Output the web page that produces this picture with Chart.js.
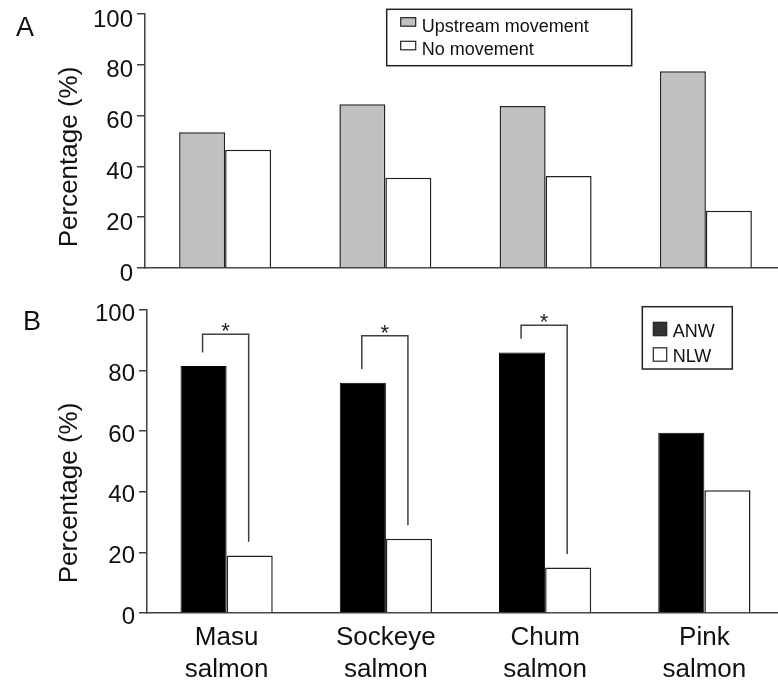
<!DOCTYPE html>
<html>
<head>
<meta charset="utf-8">
<script src="https://cdn.jsdelivr.net/npm/chart.js@4.4.1/dist/chart.umd.min.js"></script>
<style>
  html, body { margin: 0; padding: 0; background: #fff; overflow: hidden; }
  #wrap { position: relative; width: 778px; height: 684px; overflow: hidden; }
  .panel { position: absolute; left: 0; }
  #pa { top: 0; }
  #pb { top: 290px; }
</style>
</head>
<body>
<div id="wrap">
  <div class="panel" id="pa"><canvas id="chartA" width="792" height="290"></canvas></div>
  <div class="panel" id="pb"><canvas id="chartB" width="792" height="394"></canvas></div>
</div>
<script>
// Salmon species on the category axis (two-line labels)
const species = [['Masu', 'salmon'], ['Sockeye', 'salmon'], ['Chum', 'salmon'], ['Pink', 'salmon']];

// Panel A: share of fish moving upstream vs not moving (%)
const upstreamMovement = [53.4, 64.5, 63.8, 77.5];
const noMovement = [46.6, 35.5, 36.2, 22.5];

// Panel B: ANW vs NLW (%)
const anwValues = [81.5, 76, 86, 59.5];
const nlwValues = [19, 24.5, 15, 40.5];

// Significance brackets in panel B (value of the bracket's top line, null = none)
const bracketTop = [92, 91.5, 95, null];
const bracketMark = '*';

// Y-axis tick values shared by both panels
const yTicks = [0, 20, 40, 60, 80, 100];

const FONT = '"Liberation Sans", Arial, Helvetica, sans-serif';
const INK = '#111';
const AXIS = '#404040';

// Draws a boxed legend from the chart's own datasets
const boxLegend = {
  id: 'boxLegend',
  afterDraw(chart, args, o) {
    const ctx = chart.ctx;
    ctx.save();
    ctx.lineWidth = 1.5;
    ctx.strokeStyle = '#222';
    ctx.strokeRect(o.box[0], o.box[1], o.box[2] - o.box[0], o.box[3] - o.box[1]);
    ctx.font = o.fontSize + 'px ' + FONT;
    ctx.fillStyle = INK;
    ctx.textBaseline = 'alphabetic';
    ctx.textAlign = 'left';
    chart.data.datasets.forEach((ds, i) => {
      const sy = o.swatchY + i * o.step;
      ctx.fillStyle = o.swatchFill && o.swatchFill[i] ? o.swatchFill[i] : ds.backgroundColor;
      ctx.fillRect(o.swatchX, sy, o.swatchW, o.swatchH);
      ctx.lineWidth = 1.2;
      ctx.strokeStyle = '#222';
      ctx.strokeRect(o.swatchX, sy, o.swatchW, o.swatchH);
      ctx.fillStyle = INK;
      ctx.fillText(ds.label, o.textX, sy + o.textDy);
    });
    ctx.restore();
  }
};

// Axis caption and panel letter
const captions = {
  id: 'captions',
  afterDraw(chart, args, o) {
    const ctx = chart.ctx;
    ctx.save();
    ctx.fillStyle = INK;
    ctx.textAlign = 'center';
    ctx.textBaseline = 'middle';
    (o.items || []).forEach(it => {
      ctx.save();
      ctx.font = it.size + 'px ' + FONT;
      ctx.translate(it.x, it.y);
      if (it.rotate) ctx.rotate(it.rotate);
      ctx.fillText(it.text, 0, 0);
      ctx.restore();
    });
    ctx.restore();
  }
};

// Significance brackets joining the two bars of a category
const brackets = {
  id: 'brackets',
  afterDatasetsDraw(chart, args, o) {
    const ctx = chart.ctx;
    const y = chart.scales.y;
    const m0 = chart.getDatasetMeta(0), m1 = chart.getDatasetMeta(1);
    ctx.save();
    ctx.strokeStyle = AXIS;
    ctx.lineWidth = 1.5;
    ctx.fillStyle = '#222';
    ctx.font = o.markSize + 'px ' + FONT;
    ctx.textAlign = 'center';
    ctx.textBaseline = 'alphabetic';
    o.tops.forEach((top, i) => {
      if (top == null) return;
      const xl = m0.data[i].x - 1, xr = m1.data[i].x - 1;
      const yl = y.getPixelForValue(o.left[i] + o.gap);
      const yr = y.getPixelForValue(o.right[i] + o.gap);
      const yt = y.getPixelForValue(top);
      ctx.beginPath();
      ctx.moveTo(xl, yl);
      ctx.lineTo(xl, yt);
      ctx.lineTo(xr, yt);
      ctx.lineTo(xr, yr);
      ctx.stroke();
      ctx.fillText(o.mark, (xl + xr) / 2, yt + o.markDy);
    });
    ctx.restore();
  }
};

function yAxis(width, labelOffset) {
  return {
    min: 0, max: 100,
    afterBuildTicks: s => { s.ticks = yTicks.map(v => ({ value: v })); },
    ticks: { padding: 4, labelOffset: labelOffset, color: INK, font: { family: FONT, size: 24 } },
    grid: { drawOnChartArea: false, drawTicks: true, tickLength: 8, color: AXIS, lineWidth: 1.5 },
    border: { display: true, color: AXIS, width: 1.5 },
    afterFit: s => { s.width = width; s.paddingTop = 0; s.paddingBottom = 0; }
  };
}

const common = {
  responsive: false,
  animation: false,
  events: [],
  borderSkipped: 'start'
};

new Chart(document.getElementById('chartA'), {
  type: 'bar',
  data: {
    labels: species,
    datasets: [
      { label: 'Upstream movement', data: upstreamMovement, backgroundColor: '#c0c0c0', borderColor: '#222', borderWidth: 1.5,
        categoryPercentage: 0.574, barPercentage: 1 },
      { label: 'No movement', data: noMovement, backgroundColor: '#ffffff', borderColor: '#222', borderWidth: 1.5,
        categoryPercentage: 0.574, barPercentage: 1 }
    ]
  },
  options: {
    ...common,
    layout: { padding: { left: 0, top: 14, right: 6, bottom: 0 } },
    scales: {
      x: {
        grid: { display: false, drawTicks: false },
        border: { display: true, color: AXIS, width: 1.5 },
        ticks: { display: false },
        afterFit: s => { s.height = 22; s.paddingLeft = 0; s.paddingRight = 0; }
      },
      y: yAxis(145, 6)
    },
    plugins: {
      legend: { display: false },
      tooltip: { enabled: false },
      boxLegend: { box: [386.7, 9.3, 631.7, 65.7], swatchX: 400.7, swatchY: 17.7, swatchW: 15, swatchH: 8.5,
                   step: 23.6, textX: 421.7, textDy: 13.8, fontSize: 18 },
      captions: { items: [
        { text: 'A', x: 25, y: 29, size: 27 },
        { text: 'Percentage (%)', x: 70, y: 157, size: 26, rotate: -Math.PI / 2 }
      ] }
    }
  },
  plugins: [boxLegend, captions]
});

new Chart(document.getElementById('chartB'), {
  type: 'bar',
  data: {
    labels: species,
    datasets: [
      { label: 'ANW', data: anwValues, backgroundColor: '#000000', borderColor: '#000', borderWidth: 1,
        categoryPercentage: 0.579, barPercentage: 1 },
      { label: 'NLW', data: nlwValues, backgroundColor: '#ffffff', borderColor: '#222', borderWidth: 1.5,
        categoryPercentage: 0.579, barPercentage: 1 }
    ]
  },
  options: {
    ...common,
    layout: { padding: { left: 0, top: 20, right: 8, bottom: 0 } },
    scales: {
      x: {
        grid: { display: false, drawTicks: false },
        border: { display: true, color: AXIS, width: 1.5 },
        ticks: { color: INK, padding: 9, maxRotation: 0, autoSkip: false,
                 font: { family: FONT, size: 26, lineHeight: 1.23 } },
        afterFit: s => { s.height = 71; s.paddingLeft = 0; s.paddingRight = 0; }
      },
      y: yAxis(147, 4)
    },
    plugins: {
      legend: { display: false },
      tooltip: { enabled: false },
      boxLegend: { box: [642.3, 16.7, 732.3, 79], swatchX: 653.3, swatchY: 32.3, swatchW: 13.4, swatchH: 13.4,
                   step: 25.5, textX: 672.7, textDy: 14.6, fontSize: 18, swatchFill: ['#333333', '#ffffff'] },
      brackets: { tops: bracketTop, left: anwValues, right: nlwValues, gap: 4.5, mark: bracketMark,
                  markSize: 22, markDy: 4 },
      captions: { items: [
        { text: 'B', x: 32, y: 33, size: 27 },
        { text: 'Percentage (%)', x: 70, y: 203, size: 26, rotate: -Math.PI / 2 }
      ] }
    }
  },
  plugins: [boxLegend, captions, brackets]
});
</script>
</body>
</html>
